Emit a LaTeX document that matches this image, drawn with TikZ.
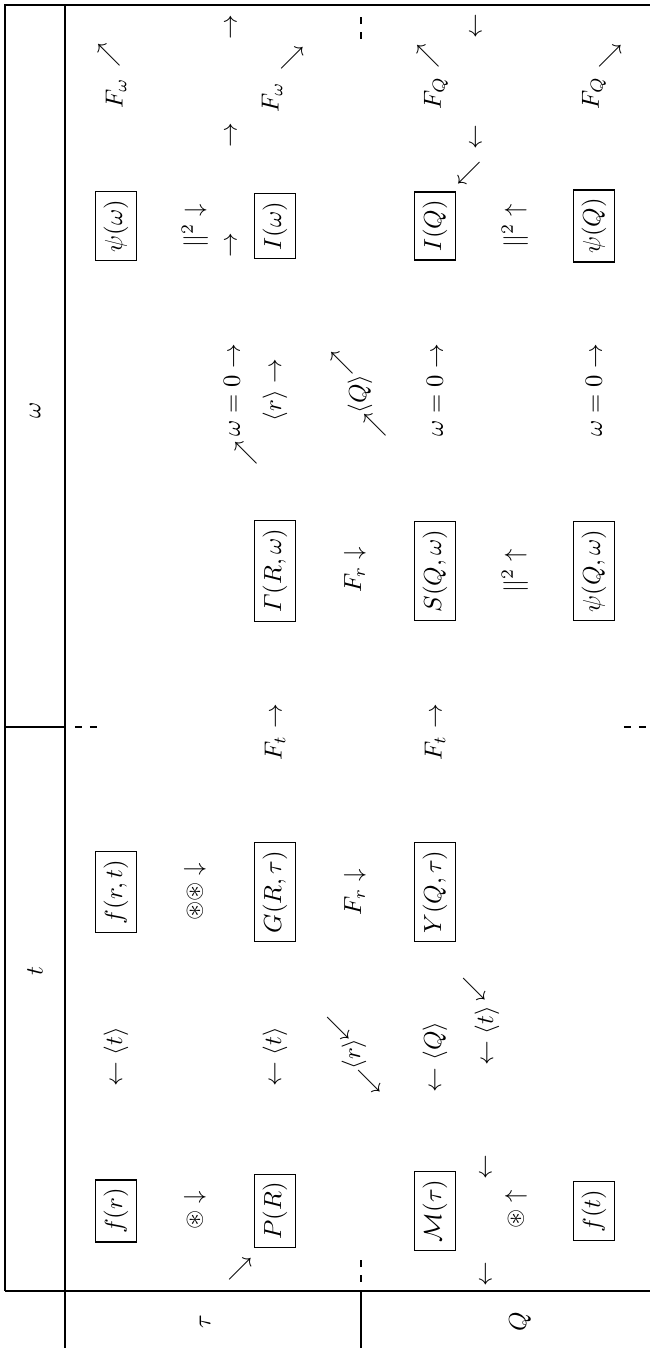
\documentclass[tikz,border=0pt]{standalone}
\usepackage{amsmath,amssymb}
\usepackage{tikz}
\tikzset{
    func/.style={draw,line width=0.5pt,inner sep=3.3pt},
    op/.style={inner sep=1pt},
    hdr/.style={inner sep=1pt},
    rule/.style={line width=0.6pt},
    outer/.style={line width=0.9pt},
    cut/.style={line width=0.5pt,dash pattern=on 3pt off 3pt},
}

\begin{document}
\begin{tikzpicture}[x=0.405pt,y=0.405pt,rotate=90,transform shape]
    \useasboundingbox (0,0) rectangle (1348,650);

    % table rules
    \draw[outer] (57,645) -- (1343,645) -- (1343,0);
    \draw[rule] (0,585) -- (1343,585);
    \draw[rule] (57,0) -- (57,645);
    \draw[rule] (621,585) -- (621,645);
    \draw[rule] (0,289) -- (57,289);
    \draw[cut] (621,575) -- (621,548);
    \draw[cut] (621,26) -- (621,0);
    \draw[cut] (66,289) -- (93,289);
    \draw[cut] (1309,289) -- (1336,289);

    \node[hdr] (ht) at (377,615) {$t$};
    \node[hdr] (hw) at (938,615) {$\omega$};
    \node[hdr] (htau) at (26,445) {$\tau$};
    \node[hdr] (hQ) at (26,130) {$Q$};

    \node[func] (fr) at (137,534) {$f(r)$};
    \node[func] (frt) at (456,534) {$f(r,t)$};
    \node[func] (psiw) at (1122,534) {$\psi(\omega)$};
    \node[func] (PR) at (137,375) {$P(R)$};
    \node[func] (GRt) at (456,375) {$G(R,\tau)$};
    \node[func] (GRw) at (777,375) {$\varGamma(R,\omega)$};
    \node[func] (Iw) at (1122,375) {$I(\omega)$};
    \node[func] (Mt) at (137,215) {$\mathcal{M}(\tau)$};
    \node[func] (YQt) at (456,215) {$Y(Q,\tau)$};
    \node[func] (SQw) at (777,215) {$S(Q,\omega)$};
    \node[func] (IQ) at (1122,215) {$I(Q)$};
    \node[func] (ft) at (137,56) {$f(t)$};
    \node[func] (psiQw) at (777,56) {$\psi(Q,\omega)$};
    \node[func] (psiQ) at (1122,56) {$\psi(Q)$};

    \node[op] (conva) at (138,455) {$\circledast\downarrow$};
    \node[op] (convb) at (456,455) {$\circledast\circledast\downarrow$};
    \node[op] (sqa) at (1122,455) {$||^2\downarrow$};
    \node[op] (convc) at (139,134) {$\circledast\uparrow$};
    \node[op] (sqb) at (777,135) {$||^2\uparrow$};
    \node[op] (sqc) at (1122,135) {$||^2\uparrow$};

    \node[op] (avta) at (291,534) {$\leftarrow\langle t\rangle$};
    \node[op] (avtb) at (291,375) {$\leftarrow\langle t\rangle$};
    \node[op] (avQa) at (291,215) {$\leftarrow\langle Q\rangle$};
    \node[op] (avr) at (294,296) {$\langle r\rangle$};
    \node[op] (swa) at (267,281) {$\swarrow$};
    \node[op] (swb) at (320,312) {$\swarrow$};
    \node[op] (avtc) at (312,163) {$\leftarrow\langle t\rangle$};
    \node[op] (swc) at (359,176) {$\swarrow$};
    \node[op] (laa) at (181,163) {$\leftarrow$};
    \node[op] (lab) at (74,163) {$\leftarrow$};
    \node[op] (sea) at (79,410) {$\searrow$};

    \node[op] (Fra) at (456,295) {$F_r\downarrow$};
    \node[op] (Frb) at (778,295) {$F_r\downarrow$};
    \node[op] (Fta) at (616,375) {$F_t\rightarrow$};
    \node[op] (Ftb) at (616,215) {$F_t\rightarrow$};

    \node[op] (wza) at (958,418) {$\omega=0\rightarrow$};
    \node[op] (nea) at (895,404) {$\nearrow$};
    \node[op] (avrb) at (958,375) {$\langle r\rangle\rightarrow$};
    \node[op] (avQb) at (954,290) {$\langle Q\rangle$};
    \node[op] (neb) at (923,275) {$\nearrow$};
    \node[op] (nec) at (985,308) {$\nearrow$};
    \node[op] (wzb) at (958,215) {$\omega=0\rightarrow$};
    \node[op] (wzc) at (958,56) {$\omega=0\rightarrow$};

    \node[op] (raa) at (1103,418) {$\rightarrow$};
    \node[op] (rab) at (1213,418) {$\rightarrow$};
    \node[op] (rac) at (1321,418) {$\rightarrow$};
    \node[op] (lac) at (1211,173) {$\leftarrow$};
    \node[op] (lad) at (1322,173) {$\leftarrow$};
    \node[op] (nwa) at (1175,181) {$\nwarrow$};

    \node[op] (Fwa) at (1255,534) {$F_\omega$};
    \node[op] (ned) at (1293,541) {$\nearrow$};
    \node[op] (Fwb) at (1251,378) {$F_\omega$};
    \node[op] (sed) at (1290,358) {$\searrow$};
    \node[op] (FQa) at (1255,214) {$F_Q$};
    \node[op] (nee) at (1292,222) {$\nearrow$};
    \node[op] (FQb) at (1255,56) {$F_Q$};
    \node[op] (see) at (1292,40) {$\searrow$};
\end{tikzpicture}
\end{document}
